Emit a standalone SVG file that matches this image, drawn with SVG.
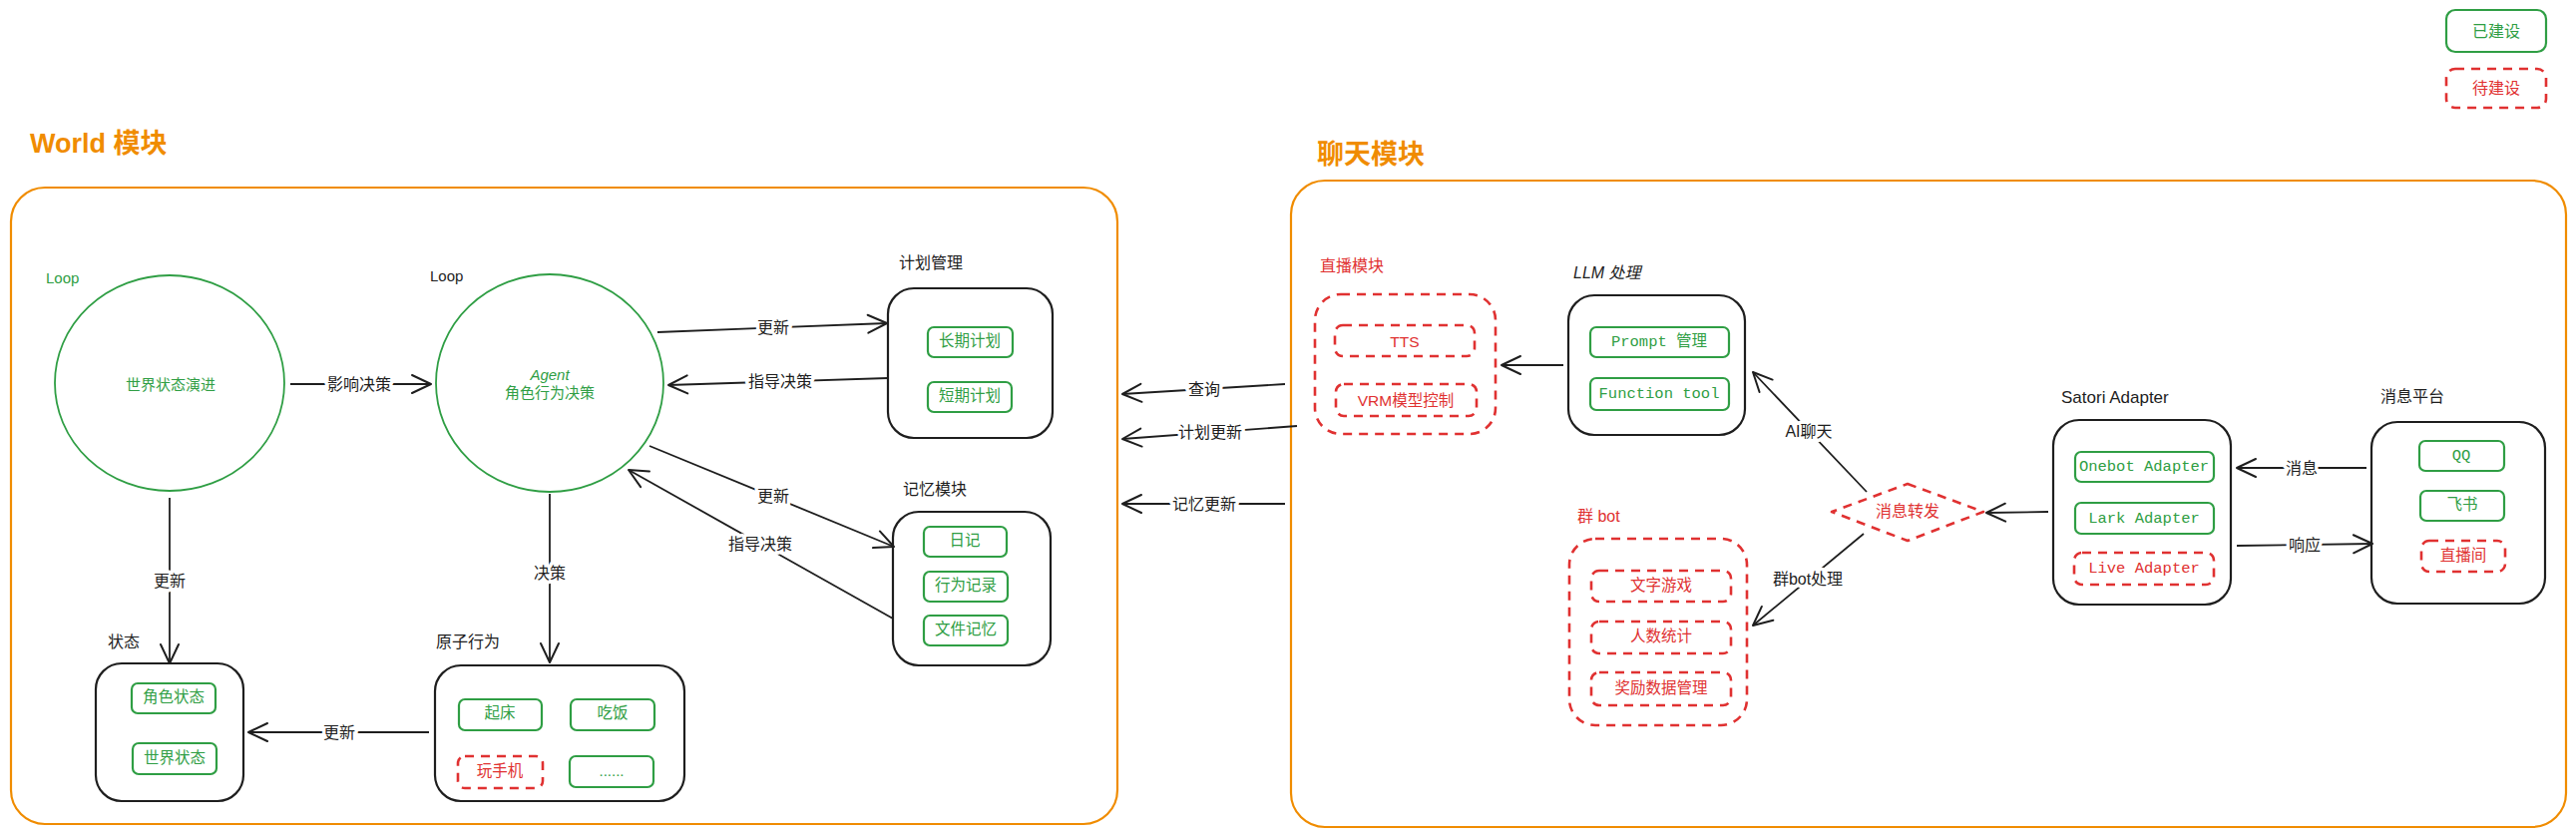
<svg xmlns="http://www.w3.org/2000/svg" width="2582" height="839" viewBox="0 0 2582 839">
<defs>
<marker id="ah" markerWidth="24" markerHeight="24" refX="21" refY="12" orient="auto" markerUnits="userSpaceOnUse">
<path d="M2,3 L21,12 L2,21" fill="none" stroke="#1e1e1e" stroke-width="2" stroke-linecap="round" stroke-linejoin="round"/>
</marker>
</defs>
<style>
text{font-family:"Liberation Sans","Noto Sans CJK SC",sans-serif;}
.title{font-size:27px;fill:#f08c00;font-weight:bold;}
.cont{fill:none;stroke:#f08c00;stroke-width:2.2;}
.box{fill:none;stroke:#1e1e1e;stroke-width:2.2;}
.g{fill:none;stroke:#2f9e44;stroke-width:2.2;}
.r{fill:none;stroke:#e03131;stroke-width:2.6;stroke-dasharray:9 7;}
.ell{fill:none;stroke:#2f9e44;stroke-width:1.8;}
.lbl{font-size:16px;fill:#1e1e1e;}
.rl{font-size:16px;fill:#e03131;}
.gt{font-family:"Liberation Mono","Noto Sans CJK SC",monospace;font-size:15.5px;fill:#2f9e44;text-anchor:middle;dominant-baseline:central;}
.rt{font-family:"Liberation Mono","Noto Sans CJK SC",monospace;font-size:15.5px;fill:#e03131;text-anchor:middle;dominant-baseline:central;}
.ct{font-size:15px;fill:#2f9e44;text-anchor:middle;dominant-baseline:central;}
.edge{fill:none;stroke:#1e1e1e;stroke-width:1.8;marker-end:url(#ah);}
.el{font-size:16px;fill:#1e1e1e;text-anchor:middle;dominant-baseline:central;stroke:#ffffff;stroke-width:7px;paint-order:stroke;stroke-linejoin:round;}
</style>
<rect width="2582" height="839" fill="#ffffff"/>

<g id="legend">
<rect class="g" x="2452" y="10" width="100" height="42" rx="9"/>
<text class="ct" x="2502" y="31" style="font-size:16px">已建设</text>
<rect class="r" x="2452" y="69" width="100" height="39" rx="9"/>
<text class="ct" x="2502" y="88" style="font-size:16px;fill:#e03131">待建设</text>
</g>

<g id="world-module">
<text class="title" x="30" y="153">World 模块</text>
<rect class="cont" x="11" y="188" width="1109" height="638" rx="34"/>
</g>

<g id="chat-module">
<text class="title" x="1320" y="164">聊天模块</text>
<rect class="cont" x="1294" y="181" width="1278" height="648" rx="34"/>
</g>

<g id="world-loop">
<text class="lbl" x="46" y="284" style="fill:#2f9e44;font-size:15px">Loop</text>
<ellipse class="ell" cx="170" cy="384" rx="115" ry="108"/>
<text class="ct" x="171" y="385">世界状态演进</text>
</g>

<g id="agent-loop">
<text class="lbl" x="431" y="282" style="font-size:15px">Loop</text>
<ellipse class="ell" cx="551" cy="384" rx="114" ry="109"/>
<text class="ct" x="551" y="375" style="font-style:italic">Agent</text>
<text class="ct" x="551" y="393">角色行为决策</text>
</g>

<g id="state">
<text class="lbl" x="108" y="649">状态</text>
<rect class="box" x="96" y="665" width="148" height="138" rx="26"/>
<rect class="g" x="132" y="685" width="84" height="30" rx="6"/>
<text class="gt" x="174" y="700">角色状态</text>
<rect class="g" x="133" y="745" width="84" height="31" rx="6"/>
<text class="gt" x="175" y="761">世界状态</text>
</g>

<g id="atomic-actions">
<text class="lbl" x="437" y="649">原子行为</text>
<rect class="box" x="436" y="667" width="250" height="136" rx="26"/>
<rect class="g" x="460" y="701" width="83" height="31" rx="6"/>
<text class="gt" x="501" y="716">起床</text>
<rect class="g" x="572" y="701" width="84" height="31" rx="6"/>
<text class="gt" x="614" y="716">吃饭</text>
<rect class="r" x="459" y="758" width="85" height="32" rx="7"/>
<text class="rt" x="501" y="774">玩手机</text>
<rect class="g" x="571" y="758" width="84" height="31" rx="6"/>
<text class="ct" x="613" y="772">......</text>
</g>

<g id="plan-mgmt">
<text class="lbl" x="901" y="269">计划管理</text>
<rect class="box" x="890" y="289" width="165" height="150" rx="26"/>
<rect class="g" x="930" y="328" width="85" height="30" rx="6"/>
<text class="gt" x="972" y="343">长期计划</text>
<rect class="g" x="930" y="383" width="84" height="30" rx="6"/>
<text class="gt" x="972" y="398">短期计划</text>
</g>

<g id="memory">
<text class="lbl" x="905" y="496">记忆模块</text>
<rect class="box" x="895" y="513" width="158" height="154" rx="26"/>
<rect class="g" x="926" y="528" width="83" height="30" rx="6"/>
<text class="gt" x="967" y="543">日记</text>
<rect class="g" x="926" y="573" width="84" height="30" rx="6"/>
<text class="gt" x="968" y="588">行为记录</text>
<rect class="g" x="926" y="617" width="84" height="30" rx="6"/>
<text class="gt" x="968" y="632">文件记忆</text>
</g>

<g id="live-module">
<text class="rl" x="1323" y="272">直播模块</text>
<rect class="r" x="1318" y="295" width="181" height="140" rx="26"/>
<rect class="r" x="1338" y="326" width="140" height="31" rx="8"/>
<text class="rt" x="1408" y="342" style="font-family:'Liberation Sans','Noto Sans CJK SC',sans-serif">TTS</text>
<rect class="r" x="1339" y="385" width="141" height="32" rx="8"/>
<text class="rt" x="1409" y="401" style="font-family:'Liberation Sans','Noto Sans CJK SC',sans-serif">VRM模型控制</text>
</g>

<g id="llm">
<text class="lbl" x="1577" y="279" style="font-style:italic">LLM 处理</text>
<rect class="box" x="1572" y="296" width="177" height="140" rx="26"/>
<rect class="g" x="1594" y="328" width="139" height="30" rx="6"/>
<text class="gt" x="1663" y="343">Prompt 管理</text>
<rect class="g" x="1594" y="379" width="139" height="32" rx="6"/>
<text class="gt" x="1663" y="395">Function tool</text>
</g>

<g id="group-bot">
<text class="rl" x="1581" y="523">群 bot</text>
<rect class="r" x="1573" y="540" width="178" height="187" rx="26"/>
<rect class="r" x="1595" y="572" width="140" height="31" rx="8"/>
<text class="rt" x="1665" y="588">文字游戏</text>
<rect class="r" x="1595" y="623" width="140" height="32" rx="8"/>
<text class="rt" x="1665" y="639">人数统计</text>
<rect class="r" x="1595" y="674" width="140" height="33" rx="8"/>
<text class="rt" x="1665" y="691">奖励数据管理</text>
</g>

<g id="dispatch">
<polygon class="r" points="1912,485 1988,513 1912,542 1836,513" stroke-linejoin="round"/>
<text class="rt" x="1912" y="514" style="font-size:16px">消息转发</text>
</g>

<g id="satori">
<text class="lbl" x="2066" y="404" style="font-size:17px">Satori Adapter</text>
<rect class="box" x="2058" y="421" width="178" height="185" rx="26"/>
<rect class="g" x="2080" y="453" width="139" height="30" rx="6"/>
<text class="gt" x="2149" y="468">Onebot Adapter</text>
<rect class="g" x="2080" y="504" width="139" height="31" rx="6"/>
<text class="gt" x="2149" y="520">Lark Adapter</text>
<rect class="r" x="2079" y="554" width="140" height="32" rx="8"/>
<text class="rt" x="2149" y="570">Live Adapter</text>
</g>

<g id="platforms">
<text class="lbl" x="2386" y="403">消息平台</text>
<rect class="box" x="2377" y="423" width="174" height="182" rx="26"/>
<rect class="g" x="2425" y="442" width="85" height="30" rx="6"/>
<text class="gt" x="2467" y="457">QQ</text>
<rect class="g" x="2426" y="492" width="84" height="30" rx="6"/>
<text class="gt" x="2468" y="507">飞书</text>
<rect class="r" x="2427" y="542" width="84" height="31" rx="8"/>
<text class="rt" x="2469" y="558">直播间</text>
</g>

<g id="connectors">
<path class="edge" d="M291,385 L432,385"/>
<text class="el" x="360" y="385">影响决策</text>
<path class="edge" d="M170,499 L170,665"/>
<text class="el" x="170" y="582">更新</text>
<path class="edge" d="M551,495 L551,664"/>
<text class="el" x="551" y="574">决策</text>
<path class="edge" d="M430,734 L249,734"/>
<text class="el" x="340" y="734">更新</text>
<path class="edge" d="M659,333 L889,324"/>
<text class="el" x="775" y="328">更新</text>
<path class="edge" d="M890,379 L670,386"/>
<text class="el" x="782" y="382">指导决策</text>
<path class="edge" d="M651,447 L896,548"/>
<text class="el" x="775" y="497">更新</text>
<path class="edge" d="M895,620 L630,471"/>
<text class="el" x="762" y="545">指导决策</text>
<path class="edge" d="M1288,385 L1125,395"/>
<text class="el" x="1207" y="390">查询</text>
<path class="edge" d="M1300,427 L1125,440"/>
<text class="el" x="1213" y="433">计划更新</text>
<path class="edge" d="M1288,505 L1125,505"/>
<text class="el" x="1207" y="505">记忆更新</text>
<path class="edge" d="M1567,366 L1505,366"/>
<path class="edge" d="M1871,493 L1757,373"/>
<text class="el" x="1813" y="432">AI聊天</text>
<path class="edge" d="M1868,535 L1757,627"/>
<text class="el" x="1812" y="580">群bot处理</text>
<path class="edge" d="M2053,513 L1991,514"/>
<path class="edge" d="M2372,469 L2242,469"/>
<text class="el" x="2307" y="469">消息</text>
<path class="edge" d="M2242,547 L2378,545"/>
<text class="el" x="2310" y="546">响应</text>
</g>
</svg>
